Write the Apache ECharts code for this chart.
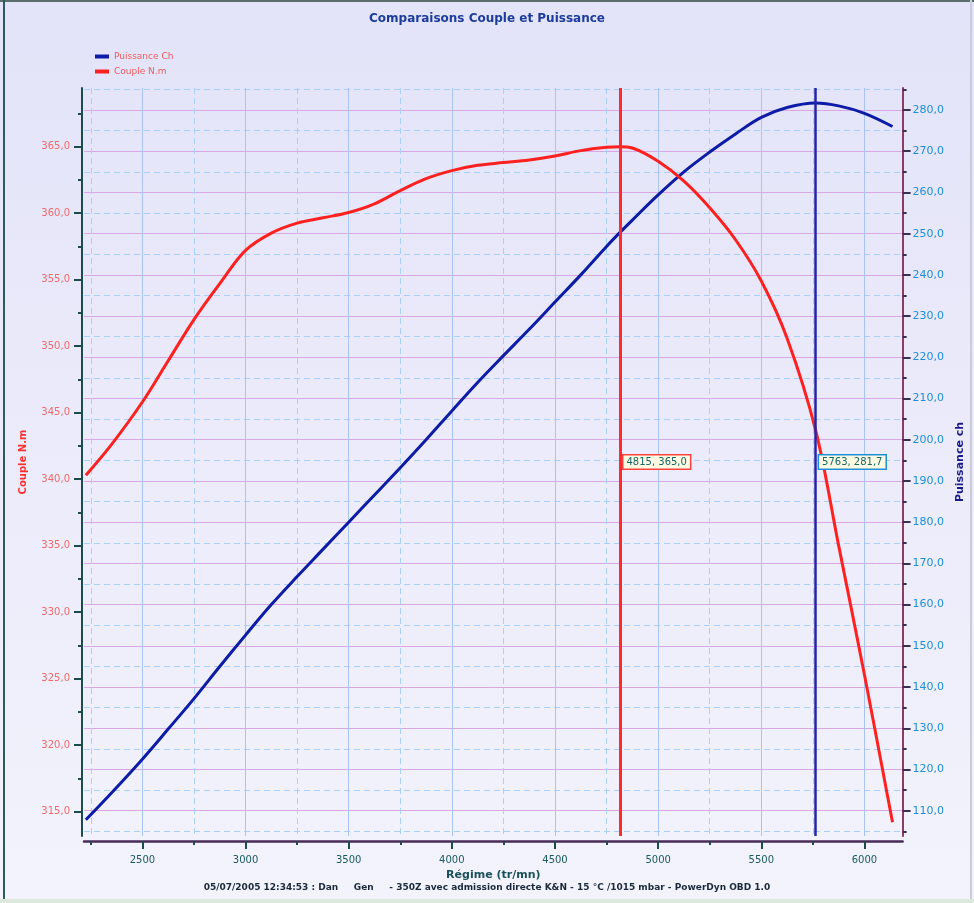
<!DOCTYPE html>
<html><head><meta charset="utf-8">
<script src="https://cdn.jsdelivr.net/npm/echarts@6/dist/echarts.min.js"></script>
<style>html,body{margin:0;padding:0;background:#fff}#c{width:974px;height:903px}</style>
</head><body><div id="c"></div>
<script>
// ---- data ----
const rpm = [2226, 2350, 2500, 2625, 2750, 2875, 3000, 3125, 3250, 3375, 3500, 3625, 3750, 3875, 4000, 4125, 4250, 4375, 4500, 4625, 4750, 4815, 4875, 5000, 5125, 5250, 5375, 5500, 5625, 5763, 5875, 6000, 6136];
const torque = [340.3, 342.6, 345.8, 348.9, 352.0, 354.7, 357.2, 358.5, 359.25, 359.65, 360.05, 360.7, 361.7, 362.6, 363.2, 363.6, 363.8, 364.0, 364.3, 364.7, 364.95, 365.0, 364.9, 363.9, 362.4, 360.4, 358.0, 354.9, 350.6, 343.7, 335.0, 325.3, 314.2];
const power = [107.8, 114.3, 122.5, 129.8, 137.2, 145.0, 152.6, 160.0, 166.8, 173.4, 180.0, 186.6, 193.2, 200.0, 207.0, 213.9, 220.4, 226.8, 233.4, 240.0, 246.9, 250.3, 253.3, 259.4, 265.0, 269.8, 274.2, 278.2, 280.6, 281.7, 281.0, 279.2, 276.0];

const rpmTicks = [2500, 3000, 3500, 4000, 4500, 5000, 5500, 6000];
const rpmMinorTicks = [2250, 2750, 3250, 3750, 4250, 4750, 5250, 5750];
const torqueTicks = [315, 320, 325, 330, 335, 340, 345, 350, 355, 360, 365];
const torqueMinorTicks = [317.5, 322.5, 327.5, 332.5, 337.5, 342.5, 347.5, 352.5, 357.5, 362.5, 367.5];
const powerTicks = [110, 120, 130, 140, 150, 160, 170, 180, 190, 200, 210, 220, 230, 240, 250, 260, 270, 280];
const powerMinorTicks = [105, 115, 125, 135, 145, 155, 165, 175, 185, 195, 205, 215, 225, 235, 245, 255, 265, 275, 285];

const rpmRange = [2217, 6185];
const torqueRange = [313.17, 369.41];
const powerRange = [103.86, 285.34];

const peakTorque = { rpm: 4815, value: 365.0 };
const peakPower = { rpm: 5763, value: 281.7 };

const titleText = 'Comparaisons Couple et Puissance';
const footerText = '05/07/2005 12:34:53 : Dan     Gen     - 350Z avec admission directe K&N - 15 °C /1015 mbar - PowerDyn OBD 1.0';

// ---- chart ----
const fmt = v => Number(v).toFixed(1).replace('.', ',');
const FONT = 'DejaVu Sans';
const chart = echarts.init(document.getElementById('c'), null, { renderer: 'canvas' });

const labelBox = (border) => ({
  show: true, position: 'right', distance: 3,
  backgroundColor: '#fffbe2', borderColor: border, borderWidth: 1.5,
  padding: [2, 3, 1, 3], color: '#116868', fontSize: 10, fontFamily: FONT
});

chart.setOption({
  animation: false,
  backgroundColor: { type: 'linear', x: 0, y: 0, x2: 0, y2: 1,
    colorStops: [{ offset: 0, color: '#e3e3f9' }, { offset: 1, color: '#f3f3fc' }] },
  textStyle: { fontFamily: FONT },
  title: { text: titleText, left: 'center', top: 8,
    textStyle: { fontSize: 12, fontWeight: 'bold', color: '#1c3c9c', fontFamily: FONT } },
  legend: { data: ['Puissance Ch', 'Couple N.m'], orient: 'vertical', left: 90, top: 47,
    itemWidth: 14, itemHeight: 4, itemGap: 6, icon: 'rect',
    textStyle: { color: '#f05a5a', fontSize: 9, fontFamily: FONT } },
  grid: { left: 84, right: 71, top: 88, bottom: 67 },
  xAxis: [
    { type: 'value', position: 'bottom', offset: 5, min: rpmRange[0], max: rpmRange[1],
      name: 'Régime (tr/mn)', nameLocation: 'middle', nameGap: 27,
      nameTextStyle: { color: '#1a5058', fontWeight: 'bold', fontSize: 11 },
      axisLine: { show: true, lineStyle: { color: '#4a2a58', width: 2.5 } },
      axisTick: { show: true, customValues: rpmTicks, length: 8, lineStyle: { color: '#1b4b4b', width: 2 } },
      axisLabel: { customValues: rpmTicks, formatter: v => String(v), color: '#1a5a60', fontSize: 10, margin: 14 },
      splitLine: { show: true, lineStyle: { color: '#a9c3f2', width: 1 } } },
    { type: 'value', position: 'bottom', offset: 5, min: rpmRange[0], max: rpmRange[1],
      axisLine: { show: false },
      axisTick: { show: true, customValues: rpmMinorTicks, length: 4, lineStyle: { color: '#1b4b4b', width: 2 } },
      axisLabel: { show: false },
      splitLine: { show: true, lineStyle: { color: '#a8d0f8', width: 1, type: [6, 4] } } }
  ],
  yAxis: [
    { type: 'value', position: 'left', offset: 2, min: torqueRange[0], max: torqueRange[1],
      name: 'Couple N.m', nameLocation: 'middle', nameRotate: 90, nameGap: 54,
      nameTextStyle: { color: '#ff3030', fontWeight: 'bold', fontSize: 10 },
      axisLine: { show: true, lineStyle: { color: '#1b4b4b', width: 2 } },
      axisTick: { show: true, customValues: torqueTicks, length: 8, lineStyle: { color: '#1b4b4b', width: 2 } },
      axisLabel: { customValues: torqueTicks, formatter: fmt, color: '#f06a6a', fontSize: 10, margin: 12 },
      splitLine: { show: false } },
    { type: 'value', position: 'left', offset: 2, min: torqueRange[0], max: torqueRange[1],
      axisLine: { show: false },
      axisTick: { show: true, customValues: torqueMinorTicks, length: 4, lineStyle: { color: '#1b4b4b', width: 2 } },
      axisLabel: { show: false }, splitLine: { show: false } },
    { type: 'value', position: 'right', min: powerRange[0], max: powerRange[1],
      name: 'Puissance ch', nameLocation: 'middle', nameRotate: 90, nameGap: 49,
      nameTextStyle: { color: '#1a1a8c', fontWeight: 'bold', fontSize: 11 },
      axisLine: { show: true, lineStyle: { color: '#8c3c64', width: 2 } },
      axisTick: { show: true, customValues: powerTicks, length: 8, lineStyle: { color: '#3a3050', width: 2 } },
      axisLabel: { customValues: powerTicks, formatter: fmt, color: '#1e8fd6', fontSize: 11, margin: 10 },
      splitLine: { show: true, lineStyle: { color: '#dba6e6', width: 1 } } },
    { type: 'value', position: 'right', min: powerRange[0], max: powerRange[1],
      axisLine: { show: false },
      axisTick: { show: true, customValues: powerMinorTicks, length: 4, lineStyle: { color: '#3a3050', width: 2 } },
      axisLabel: { show: false },
      splitLine: { show: true, lineStyle: { color: '#a8d0f8', width: 1, type: [6, 4] } } }
  ],
  series: [
    { name: 'Puissance Ch', type: 'line', xAxisIndex: 0, yAxisIndex: 2, smooth: 0.35, showSymbol: false,
      data: rpm.map((r, i) => [r, power[i]]),
      lineStyle: { color: '#0c1ca6', width: 3 }, itemStyle: { color: '#0c1ca6' },
      markLine: { silent: true, symbol: ['none', 'none'], label: { show: false },
        lineStyle: { color: '#2424a8', width: 2.5, type: 'solid' },
        data: [{ xAxis: peakPower.rpm }] },
      markPoint: { silent: true, symbol: 'circle', symbolSize: 1, itemStyle: { color: 'rgba(0,0,0,0)' },
        label: Object.assign(labelBox('#1e90d8'), { formatter: () => peakPower.rpm + ', ' + fmt(peakPower.value) }),
        data: [{ coord: [peakPower.rpm, (powerRange[0] + powerRange[1]) / 2] }] } },
    { name: 'Couple N.m', type: 'line', xAxisIndex: 0, yAxisIndex: 0, smooth: 0.35, showSymbol: false,
      data: rpm.map((r, i) => [r, torque[i]]),
      lineStyle: { color: '#ff2020', width: 3 }, itemStyle: { color: '#ff2020' },
      markLine: { silent: true, symbol: ['none', 'none'], label: { show: false },
        lineStyle: { color: '#ff2a2a', width: 3, type: 'solid' },
        data: [{ xAxis: peakTorque.rpm }] },
      markPoint: { silent: true, symbol: 'circle', symbolSize: 1, itemStyle: { color: 'rgba(0,0,0,0)' },
        label: Object.assign(labelBox('#ff4040'), { formatter: () => peakTorque.rpm + ', ' + fmt(peakTorque.value) }),
        data: [{ coord: [peakTorque.rpm, (torqueRange[0] + torqueRange[1]) / 2] }] } }
  ],
  graphic: [
    { type: 'rect', left: 0, top: 0, shape: { width: 974, height: 2 }, style: { fill: '#5a6e6e' }, silent: true },
    { type: 'rect', left: 3, top: 0, shape: { width: 2, height: 903 }, style: { fill: '#2e5a5a' }, silent: true },
    { type: 'rect', left: 970, top: 0, shape: { width: 2, height: 903 }, style: { fill: '#c8ccd8' }, silent: true },
    { type: 'rect', left: 0, top: 899, shape: { width: 974, height: 4 }, style: { fill: '#dce8dc' }, silent: true },
    { type: 'text', left: 'center', top: 883, silent: true,
      style: { text: footerText, fill: '#1a2a3a', font: 'bold 9px "DejaVu Sans"' } }
  ]
});
</script></body></html>
